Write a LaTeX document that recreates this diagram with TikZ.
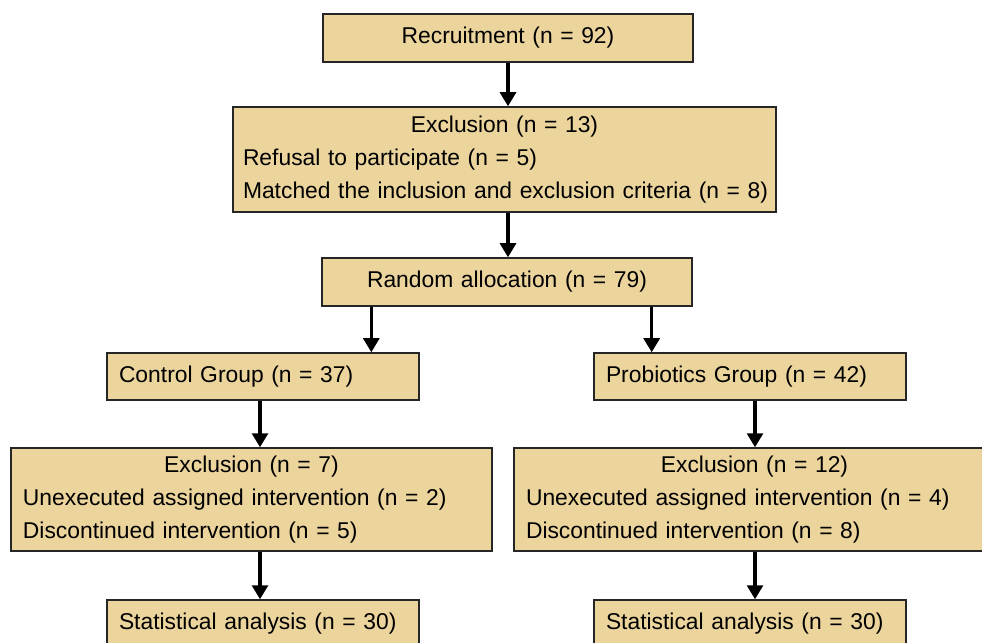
\documentclass[tikz,border=0pt]{standalone}
\usepackage{fontspec}
\setmainfont{Liberation Sans}
\usetikzlibrary{arrows.meta,shadows}
\definecolor{papyrus}{RGB}{236,213,157}
\newcommand{\headline}[1]{\makebox[\hsize]{#1}}

\begin{document}
\begin{tikzpicture}[
  box/.style={draw=black!85, line width=0.8pt, fill=papyrus,
    drop shadow={opacity=0.25, shadow xshift=0.7pt, shadow yshift=-0.7pt},
    inner xsep=0.24cm, inner ysep=0pt, align=left,
    font=\fontsize{13pt}{19pt}\selectfont},
  arr/.style={-{Triangle[width=9pt,length=8pt]}, line width=1.9pt}]
\path[use as bounding box, clip] (0,0) rectangle (19.64,-12.84);

\node[box, align=center, text width=6.92cm, minimum height=0.96cm] (rec) at (10.16,-0.76) {Recruitment (n = 92)};
\node[box, inner xsep=0.2cm, text width=10.46cm, minimum height=2.1cm] (excl) at (10.09,-3.19)
  {\headline{Exclusion (n = 13)}\\ Refusal to participate (n = 5)\\ \mbox{Matched the inclusion and exclusion criteria (n = 8)}};
\node[box, align=center, text width=6.92cm, minimum height=0.96cm] (alloc) at (10.14,-5.64) {Random allocation (n = 79)};

\node[box, text width=5.76cm, minimum height=0.94cm] (ctrl) at (5.26,-7.53) {Control Group (n = 37)};
\node[box, text width=5.76cm, minimum height=0.94cm] (prob) at (15.0,-7.53) {Probiotics Group (n = 42)};

\node[box, text width=9.14cm, minimum height=2.06cm] (exclc) at (5.03,-9.99)
  {\headline{Exclusion (n = 7)}\\ Unexecuted assigned intervention (n = 2)\\ Discontinued intervention (n = 5)};
\node[box, text width=9.14cm, minimum height=2.06cm] (exclp) at (15.09,-9.99)
  {\headline{Exclusion (n = 12)}\\ Unexecuted assigned intervention (n = 4)\\ Discontinued intervention (n = 8)};

\node[box, text width=5.76cm, minimum height=0.96cm] (statc) at (5.26,-12.48) {Statistical analysis (n = 30)};
\node[box, text width=5.76cm, minimum height=0.96cm] (statp) at (15.0,-12.48) {Statistical analysis (n = 30)};

\draw[arr] (rec.south) -- (rec.south |- excl.north);
\draw[arr] (rec.south |- excl.south) -- (rec.south |- alloc.north);
\draw[arr] ([xshift=1cm]alloc.south west) -- ([xshift=1cm]alloc.south west |- ctrl.north);
\draw[arr] ([xshift=-0.82cm]alloc.south east) -- ([xshift=-0.82cm]alloc.south east |- prob.north);
\draw[arr] ([xshift=-0.06cm]ctrl.south) -- ([xshift=-0.06cm]ctrl.south |- exclc.north);
\draw[arr] ([xshift=0.1cm]prob.south) -- ([xshift=0.1cm]prob.south |- exclp.north);
\draw[arr] ([xshift=-0.06cm]ctrl.south |- exclc.south) -- ([xshift=-0.06cm]ctrl.south |- statc.north);
\draw[arr] ([xshift=0.1cm]prob.south |- exclp.south) -- ([xshift=0.1cm]prob.south |- statp.north);
\end{tikzpicture}
\end{document}
